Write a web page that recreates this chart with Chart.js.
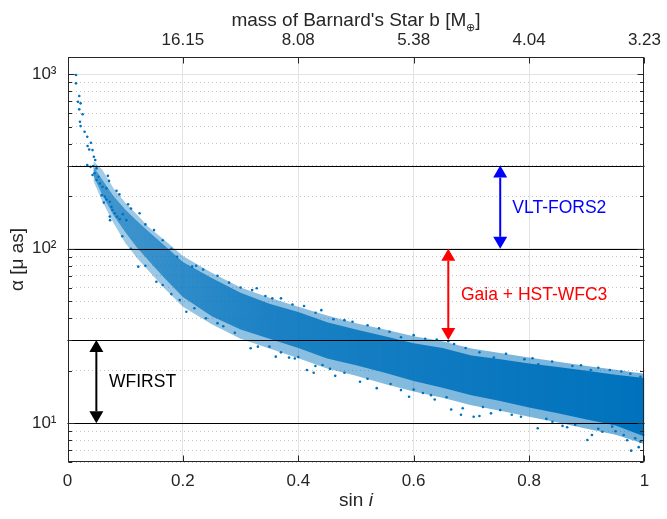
<!DOCTYPE html>
<html>
<head>
<meta charset="utf-8">
<title>Barnard's Star b - astrometric signal</title>
<script src="https://cdn.jsdelivr.net/npm/chart.js@4.4.1/dist/chart.umd.min.js"></script>
<style>
    html, body { margin: 0; padding: 0; background: #ffffff; }
    #wrap { position: relative; width: 667px; height: 519px; }
</style>
</head>
<body>
<div id="wrap"><canvas id="chart"></canvas></div>
<script>
// ---- values ----
const xTicks = [0, 0.2, 0.4, 0.6, 0.8, 1];
const xTickLabels = ['0', '0.2', '0.4', '0.6', '0.8', '1'];
const massTicks = [0.2, 0.4, 0.6, 0.8, 1];
const massLabels = ['16.15', '8.08', '5.38', '4.04', '3.23'];
const yMajorTicks = [10, 100, 1000];
const yMajorLabels = ['10\u00b9', '10\u00b2', '10\u00b3'];
const yMinorTicks = [6, 7, 8, 9, 20, 30, 40, 50, 60, 70, 80, 90, 200, 300, 400, 500, 600, 700, 800, 900];
const yMin = 6;
const yMax = 1257;

// horizontal precision levels
const levels = [10, 30, 100, 300];

// instrument ranges (double arrows)
const arrowNames = ['WFIRST', 'Gaia + HST-WFC3', 'VLT-FORS2'];
const arrowX = [0.05, 0.66, 0.75];
const arrowLow = [10, 30, 100];
const arrowHigh = [30, 100, 300];
const arrowColors = ['#000000', '#ff0000', '#0000ff'];
const labelX = [0.072, 0.682, 0.771];

// simulated cloud: dense core edges and the thinner fringe around it
const coreX = [0.045, 0.06, 0.08, 0.1, 0.12, 0.14, 0.17, 0.2, 0.25, 0.3, 0.35, 0.4, 0.45,
    0.5, 0.55, 0.6, 0.65, 0.7, 0.75, 0.8, 0.85, 0.9, 0.95, 1.0];
const coreHigh = [295, 250, 200, 168, 145, 126, 103, 84, 68, 56, 48.5, 43.5, 38,
    34.5, 31.5, 28.8, 27, 24.5, 23.3, 22, 21, 20, 19, 18.2];
const coreLow = [262, 205, 155, 125, 102, 86, 67, 53, 41, 34.5, 30.5, 27, 23.5,
    21.5, 19.5, 17.5, 16, 14.5, 13.4, 12.3, 11.4, 10.5, 9.7, 8.4];
const fringeHigh = [318, 285, 222, 184, 158, 134, 111, 91, 73, 60, 52.5, 46.5, 41.5,
    37.5, 34.5, 31.5, 29.5, 26.8, 25.3, 23.8, 22.5, 21.3, 20.3, 19.2];
const fringeLow = [245, 188, 140, 108, 89, 75, 58.5, 46.5, 37, 30.5, 26.8, 23.6, 20.6,
    18.7, 16.8, 15.2, 14, 12.7, 11.8, 10.9, 10.1, 9.3, 8.6, 7.6];

// single dots: sparse tail at small sin i, then stragglers above and below the core
const dotX = [
    0.0147, 0.0147, 0.0204, 0.0181, 0.0227, 0.0204, 0.0262, 0.0216, 0.0227, 0.0296,
    0.0342, 0.0405, 0.0348, 0.0376, 0.0434, 0.0457, 0.0480, 0.0445, 0.0342, 0.0400,
    0.0503, 0.0468, 0.0434, 0.0537, 0.0503, 0.0560, 0.0720, 0.0607, 0.0675, 0.0595,
    0.0647, 0.0675, 0.0733, 0.0630, 0.0762, 0.0780, 0.0820, 0.0733, 0.0860, 0.0960,
    0.0905, 0.1020,
    0.070, 0.090, 0.105, 0.125, 0.150, 0.165, 0.180, 0.216, 0.223, 0.260,
    0.280, 0.328, 0.343, 0.370, 0.410, 0.440, 0.461, 0.494, 0.520, 0.558,
    0.578, 0.620, 0.660, 0.690, 0.714, 0.739, 0.792, 0.806, 0.816, 0.875,
    0.907, 0.940, 0.9755, 0.993,
    0.085, 0.110, 0.135, 0.190, 0.235, 0.300, 0.320, 0.355, 0.390, 0.430,
    0.480, 0.540, 0.600, 0.640, 0.670, 0.760, 0.840, 0.890, 0.920, 0.960,
    0.0738, 0.1227, 0.154, 0.1945, 0.206, 0.220, 0.240, 0.270, 0.3175, 0.330,
    0.361, 0.384, 0.394, 0.415, 0.4297, 0.442, 0.4267, 0.464, 0.507, 0.536,
    0.578, 0.592, 0.616, 0.6365, 0.657, 0.665, 0.682, 0.685, 0.704, 0.714,
    0.734, 0.786, 0.815, 0.8405, 0.858, 0.866, 0.901, 0.909, 0.927, 0.944,
    0.964, 0.977, 0.984, 0.993,
    0.095, 0.110, 0.135, 0.165, 0.180, 0.260, 0.290, 0.350, 0.370, 0.400,
    0.455, 0.480, 0.520, 0.560, 0.600, 0.630, 0.720, 0.750, 0.770, 0.830,
    0.880, 0.920, 0.950, 0.970, 0.990, 0.998
];
const dotY = [
    991, 888, 751, 697, 682, 630, 590, 535, 505, 469,
    439, 405, 388, 371, 368, 337, 323, 298, 302, 295,
    289, 271, 265, 259, 248, 237, 245, 227, 222, 203,
    199, 192, 186, 184, 174, 167, 160, 153, 153, 158,
    148, 146,
    262, 205, 180, 160, 128, 112, 100, 79, 80, 70,
    64, 59.4, 53.7, 52, 47, 44.5, 39.5, 38.2, 36.5, 33.5,
    31.1, 30.5, 29.5, 27, 25.5, 23.8, 23.3, 23.6, 21.8, 21.3,
    20.2, 20.2, 19.2, 18.5,
    215, 170, 138, 90, 76, 60, 58, 52, 48, 43,
    39, 35, 32, 30.2, 28.5, 25, 22.6, 21.5, 20.8, 19.8,
    146, 79, 64.7, 50.9, 43.6, 45.6, 40, 36, 26.9, 27.5,
    24.1, 23.8, 23.5, 20.2, 21.3, 21.6, 19.5, 18.7, 17.3, 15.9,
    15.5, 14.2, 14.9, 13.7, 14.1, 12.0, 11.2, 12.2, 10.9, 11.0,
    11.4, 10.9, 9.36, 10.2, 9.66, 9.5, 8.02, 8.57, 8.95, 9.57,
    8.57, 6.97, 8.2, 7.85,
    118, 100, 80, 62, 55, 37.5, 33, 27.5, 25.5, 24,
    20.5, 19.5, 18, 16.8, 15.6, 14.5, 12.4, 11.9, 11.2, 10.6,
    9.8, 9.3, 9.0, 8.0, 7.3, 8.6
];

// ---- styling ----
const FONT = "'Liberation Sans', Arial, Helvetica, sans-serif";
const AXIS_COLOR = '#262626';
const DOT_COLOR = '#0072BD';

Chart.defaults.font.family = FONT;
Chart.defaults.font.size = 17;
Chart.defaults.color = AXIS_COLOR;

function toPoints(xs, ys) {
    return xs.map((x, i) => ({ x: x, y: ys[i] }));
}

// left part of the cloud is thinner than the right part
function bandFill(alphaLeft, alphaMid, alphaRight) {
    return function (context) {
        const chart = context.chart;
        const area = chart.chartArea;
        if (!area) {
            return DOT_COLOR;
        }
        const g = chart.ctx.createLinearGradient(area.left, 0, area.right, 0);
        g.addColorStop(0, 'rgba(0,114,189,' + alphaLeft + ')');
        g.addColorStop(0.35, 'rgba(0,114,189,' + alphaMid + ')');
        g.addColorStop(1, 'rgba(0,114,189,' + alphaRight + ')');
        return g;
    };
}

function edgeLine(label, xs, ys, fill, bg) {
    return {
        label: label,
        data: toPoints(xs, ys),
        showLine: true,
        pointRadius: 0,
        borderWidth: 0,
        borderColor: 'rgba(0,0,0,0)',
        backgroundColor: bg,
        fill: fill
    };
}

// draws a vertical double-headed arrow between two pixel rows
function drawArrow(ctx, px, pyTop, pyBottom, color) {
    const headLen = 12;
    const halfW = 7;
    ctx.save();
    ctx.strokeStyle = color;
    ctx.fillStyle = color;
    ctx.lineWidth = 2;
    ctx.beginPath();
    ctx.moveTo(px, pyTop + headLen);
    ctx.lineTo(px, pyBottom - headLen);
    ctx.stroke();
    ctx.beginPath();
    ctx.moveTo(px, pyTop);
    ctx.lineTo(px - halfW, pyTop + headLen);
    ctx.lineTo(px + halfW, pyTop + headLen);
    ctx.closePath();
    ctx.fill();
    ctx.beginPath();
    ctx.moveTo(px, pyBottom);
    ctx.lineTo(px - halfW, pyBottom - headLen);
    ctx.lineTo(px + halfW, pyBottom - headLen);
    ctx.closePath();
    ctx.fill();
    ctx.restore();
}

const decorPlugin = {
    id: 'decor',
    afterDatasetsDraw(chart) {
        const ctx = chart.ctx;
        const area = chart.chartArea;
        const xs = chart.scales.x;
        const ys = chart.scales.y;

        // black level lines
        ctx.save();
        ctx.strokeStyle = '#000000';
        ctx.lineWidth = 1.2;
        levels.forEach(v => {
            const py = Math.round(ys.getPixelForValue(v)) + 0.5;
            ctx.beginPath();
            ctx.moveTo(area.left, py);
            ctx.lineTo(area.right, py);
            ctx.stroke();
        });
        ctx.restore();

        // arrows and their labels
        arrowNames.forEach((name, i) => {
            const px = xs.getPixelForValue(arrowX[i]);
            const top = ys.getPixelForValue(arrowHigh[i]);
            const bottom = ys.getPixelForValue(arrowLow[i]);
            drawArrow(ctx, px, top, bottom, arrowColors[i]);
            ctx.save();
            ctx.font = '17.5px ' + FONT;
            ctx.fillStyle = arrowColors[i];
            ctx.textAlign = 'left';
            ctx.textBaseline = 'middle';
            const mid = Math.sqrt(arrowLow[i] * arrowHigh[i]);
            ctx.fillText(name, xs.getPixelForValue(labelX[i]), ys.getPixelForValue(mid) + 1);
            ctx.restore();
        });

        // axes box with inward ticks
        ctx.save();
        ctx.strokeStyle = AXIS_COLOR;
        ctx.lineWidth = 1;
        const l = Math.round(area.left) + 0.5;
        const r = Math.round(area.right) - 0.5;
        const t = Math.round(area.top) + 0.5;
        const b = Math.round(area.bottom) - 0.5;
        ctx.strokeRect(l, t, r - l, b - t);
        ctx.beginPath();
        xTicks.forEach(v => {
            const px = Math.round(xs.getPixelForValue(v)) + 0.5;
            ctx.moveTo(px, b); ctx.lineTo(px, b - 6);
            ctx.moveTo(px, t); ctx.lineTo(px, t + 6);
        });
        yMajorTicks.forEach(v => {
            const py = Math.round(ys.getPixelForValue(v)) + 0.5;
            ctx.moveTo(l, py); ctx.lineTo(l + 6, py);
            ctx.moveTo(r, py); ctx.lineTo(r - 6, py);
        });
        yMinorTicks.forEach(v => {
            const py = Math.round(ys.getPixelForValue(v)) + 0.5;
            ctx.moveTo(l, py); ctx.lineTo(l + 3.5, py);
            ctx.moveTo(r, py); ctx.lineTo(r - 3.5, py);
        });
        ctx.stroke();
        ctx.restore();
    },
    afterDraw(chart) {
        const ctx = chart.ctx;
        const area = chart.chartArea;
        const cx = (area.left + area.right) / 2;
        ctx.save();
        ctx.fillStyle = AXIS_COLOR;
        ctx.textBaseline = 'alphabetic';

        // top title with subscripted earth symbol
        const main = "mass of Barnard's Star b [M";
        ctx.font = '19px ' + FONT;
        const wMain = ctx.measureText(main).width;
        const wClose = ctx.measureText(']').width;
        ctx.font = '11px ' + FONT;
        const wSub = ctx.measureText('\u2295').width;
        let x0 = cx - (wMain + wSub + wClose) / 2;
        ctx.font = '19px ' + FONT;
        ctx.fillText(main, x0, 26);
        ctx.font = '11px ' + FONT;
        ctx.fillText('\u2295', x0 + wMain, 31);
        ctx.font = '19px ' + FONT;
        ctx.fillText(']', x0 + wMain + wSub, 26);

        // bottom title, italic i
        const w1 = ctx.measureText('sin ').width;
        ctx.font = 'italic 19px ' + FONT;
        const w2 = ctx.measureText('i').width;
        x0 = cx - (w1 + w2) / 2;
        ctx.font = '19px ' + FONT;
        ctx.fillText('sin ', x0, 506);
        ctx.font = 'italic 19px ' + FONT;
        ctx.fillText('i', x0 + w1, 506);

        // left title
        ctx.translate(18, (area.top + area.bottom) / 2);
        ctx.rotate(-Math.PI / 2);
        ctx.font = '19px ' + FONT;
        ctx.textAlign = 'center';
        ctx.textBaseline = 'middle';
        ctx.fillText('\u03b1 [\u03bc as]', 0, 0);
        ctx.restore();
    }
};

document.addEventListener('DOMContentLoaded', function () {
    const canvas = document.getElementById('chart');

    new Chart(canvas, {
        type: 'scatter',
        data: {
            datasets: [
                {
                    label: 'dots',
                    data: toPoints(dotX, dotY),
                    pointRadius: 1.3,
                    pointHoverRadius: 0,
                    borderWidth: 0,
                    backgroundColor: DOT_COLOR
                },
                edgeLine('core low', coreX, coreLow, false, 'rgba(0,0,0,0)'),
                edgeLine('core high', coreX, coreHigh, '-1', bandFill(0.55, 0.8, 1)),
                edgeLine('fringe low', coreX, fringeLow, false, 'rgba(0,0,0,0)'),
                edgeLine('fringe high', coreX, fringeHigh, '-1', bandFill(0.35, 0.45, 0.55))
            ]
        },
        options: {
            responsive: true,
            maintainAspectRatio: false,
            animation: false,
            events: [],
            layout: { padding: { left: 0, right: 19.5, top: 0, bottom: 0 } },
            plugins: {
                legend: { display: false },
                tooltip: { enabled: false }
            },
            scales: {
                x: {
                    type: 'linear',
                    position: 'bottom',
                    min: 0,
                    max: 1,
                    afterBuildTicks: s => { s.ticks = xTicks.map(v => ({ value: v })); },
                    afterFit: s => { s.height = 57; },
                    ticks: {
                        padding: 9,
                        maxRotation: 0,
                        autoSkip: false,
                        callback: v => xTickLabels[xTicks.indexOf(v)]
                    },
                    grid: {
                        drawTicks: false,
                        color: c => (c.tick && (c.tick.value === 0 || c.tick.value === 1)) ? 'rgba(0,0,0,0)' : '#e3e3e3'
                    },
                    border: { display: false }
                },
                x2: {
                    type: 'linear',
                    position: 'top',
                    min: 0,
                    max: 1,
                    afterBuildTicks: s => { s.ticks = massTicks.map(v => ({ value: v })); },
                    afterFit: s => { s.height = 57; },
                    ticks: {
                        padding: 6,
                        maxRotation: 0,
                        autoSkip: false,
                        callback: v => massLabels[massTicks.indexOf(v)]
                    },
                    grid: { display: false, drawTicks: false },
                    border: { display: false }
                },
                y: {
                    type: 'logarithmic',
                    position: 'left',
                    min: yMin,
                    max: yMax,
                    afterBuildTicks: s => { s.ticks = yMajorTicks.map(v => ({ value: v })); },
                    afterFit: s => { s.width = 67.5; },
                    ticks: {
                        padding: 11,
                        autoSkip: false,
                        callback: v => yMajorLabels[yMajorTicks.indexOf(v)]
                    },
                    grid: { drawTicks: false, color: '#e3e3e3' },
                    border: { display: false }
                },
                yMinor: {
                    type: 'logarithmic',
                    position: 'left',
                    min: yMin,
                    max: yMax,
                    afterBuildTicks: s => { s.ticks = yMinorTicks.map(v => ({ value: v })); },
                    afterFit: s => { s.width = 0; },
                    ticks: { display: false },
                    grid: { drawTicks: false, color: '#c4c4c4' },
                    border: { display: false, dash: [1, 3] }
                }
            }
        },
        plugins: [decorPlugin]
    });
});
</script>
</body>
</html>
